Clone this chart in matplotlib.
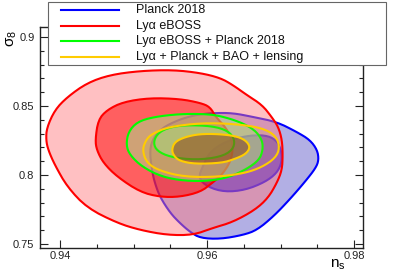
import matplotlib
matplotlib.use("Agg")
import matplotlib.pyplot as plt
from matplotlib.patches import Polygon, Rectangle
from matplotlib.lines import Line2D
from matplotlib.ticker import MultipleLocator

plt.rcParams["font.family"] = ["Liberation Sans", "DejaVu Sans"]
plt.rcParams["mathtext.fontset"] = "custom"
plt.rcParams["mathtext.rm"] = "Liberation Sans"
plt.rcParams["mathtext.it"] = "Liberation Sans"

# contour outlines (n_s, sigma_8)
planck_2s_ns = [0.9522, 0.9527, 0.9539, 0.9561, 0.9584, 0.9608, 0.9635, 0.9663, 0.9695, 0.9722,
                0.9740, 0.9750, 0.9752, 0.9748, 0.9733, 0.9713, 0.9691, 0.9668, 0.9649, 0.9618,
                0.9591, 0.9577, 0.9563, 0.9550, 0.9536, 0.9529, 0.9525]
planck_2s_s8 = [0.8181, 0.8268, 0.8341, 0.8399, 0.8435, 0.8449, 0.8449, 0.8420, 0.8384, 0.8312,
                0.8254, 0.8181, 0.8109, 0.8051, 0.7949, 0.7826, 0.7703, 0.7601, 0.7565, 0.7536,
                0.7543, 0.7587, 0.7652, 0.7725, 0.7841, 0.7942, 0.8036]
planck_1s_ns = [0.9588, 0.9595, 0.9604, 0.9624, 0.9652, 0.9679, 0.9694, 0.9701, 0.9702, 0.9695,
                0.9679, 0.9652, 0.9624, 0.9601]
planck_1s_s8 = [0.7978, 0.8072, 0.8167, 0.8239, 0.8283, 0.8290, 0.8254, 0.8181, 0.8094, 0.8014,
                0.7949, 0.7891, 0.7877, 0.7913]

lya_2s_ns = [0.9381, 0.9382, 0.9393, 0.9410, 0.9437, 0.9468, 0.9509, 0.9554, 0.9591, 0.9618,
             0.9635, 0.9654, 0.9675, 0.9688, 0.9697, 0.9702, 0.9703, 0.9702, 0.9695, 0.9683,
             0.9665, 0.9635, 0.9608, 0.9581, 0.9546, 0.9509, 0.9478, 0.9437, 0.9410, 0.9393,
             0.9384]
lya_2s_s8 = [0.8254, 0.8341, 0.8471, 0.8565, 0.8667, 0.8725, 0.8754, 0.8761, 0.8739, 0.8703,
             0.8652, 0.8580, 0.8507, 0.8420, 0.8348, 0.8254, 0.8145, 0.8036, 0.7942, 0.7833,
             0.7746, 0.7659, 0.7616, 0.7565, 0.7565, 0.7601, 0.7652, 0.7761, 0.7913, 0.8072,
             0.8181]
lya_1s_ns = [0.9448, 0.9452, 0.9464, 0.9486, 0.9522, 0.9563, 0.9591, 0.9604, 0.9612, 0.9626,
             0.9634, 0.9635, 0.9631, 0.9620, 0.9607, 0.9591, 0.9563, 0.9536, 0.9509, 0.9478,
             0.9459, 0.9450]
lya_1s_s8 = [0.8254, 0.8399, 0.8471, 0.8529, 0.8558, 0.8551, 0.8522, 0.8493, 0.8420, 0.8341,
             0.8254, 0.8167, 0.8087, 0.8000, 0.7942, 0.7877, 0.7841, 0.7841, 0.7877, 0.7986,
             0.8087, 0.8181]

lyapl_2s_ns = [0.9490, 0.9493, 0.9505, 0.9527, 0.9563, 0.9597, 0.9618, 0.9645, 0.9665, 0.9675,
               0.9676, 0.9671, 0.9654, 0.9631, 0.9604, 0.9570, 0.9539, 0.9512, 0.9495]
lyapl_2s_s8 = [0.8217, 0.8312, 0.8384, 0.8420, 0.8442, 0.8442, 0.8428, 0.8384, 0.8326, 0.8254,
               0.8181, 0.8109, 0.8043, 0.7986, 0.7957, 0.7957, 0.7986, 0.8058, 0.8145]
lyapl_1s_ns = [0.9527, 0.9532, 0.9546, 0.9570, 0.9607, 0.9629, 0.9638, 0.9635, 0.9618, 0.9584,
               0.9550, 0.9532]
lyapl_1s_s8 = [0.8232, 0.8297, 0.8341, 0.8362, 0.8355, 0.8319, 0.8254, 0.8181, 0.8130, 0.8109,
               0.8130, 0.8174]

all_2s_ns = [0.9512, 0.9517, 0.9525, 0.9547, 0.9593, 0.9638, 0.9675, 0.9694, 0.9699, 0.9693,
             0.9675, 0.9652, 0.9615, 0.9570, 0.9536, 0.9518]
all_2s_s8 = [0.8181, 0.8254, 0.8297, 0.8348, 0.8377, 0.8370, 0.8341, 0.8283, 0.8196, 0.8123,
             0.8058, 0.8014, 0.7986, 0.7986, 0.8029, 0.8087]
all_1s_ns = [0.9552, 0.9556, 0.9570, 0.9590, 0.9615, 0.9638, 0.9652, 0.9659, 0.9653, 0.9638,
             0.9620, 0.9584, 0.9563, 0.9555]
all_1s_s8 = [0.8181, 0.8239, 0.8275, 0.8297, 0.8297, 0.8283, 0.8254, 0.8203, 0.8152, 0.8116,
             0.8087, 0.8080, 0.8101, 0.8138]

labels = ["Planck 2018", "Ly\u03b1 eBOSS", "Ly\u03b1 eBOSS + Planck 2018",
          "Ly\u03b1 + Planck + BAO + lensing"]
line_colors = ["#0000ff", "#ff0000", "#00ff00", "#ffcc00"]


def smooth(xs, ys, n=2):
    # chaikin corner cutting on a closed outline
    pts = list(zip(xs, ys))
    for _ in range(n):
        new = []
        for i in range(len(pts)):
            x0, y0 = pts[i]
            x1, y1 = pts[(i + 1) % len(pts)]
            new.append((0.75 * x0 + 0.25 * x1, 0.75 * y0 + 0.25 * y1))
            new.append((0.25 * x0 + 0.75 * x1, 0.25 * y0 + 0.75 * y1))
        pts = new
    return pts


def add_contour(ax, xs, ys, line, fill, alpha):
    pts = smooth(xs, ys)
    ax.add_patch(Polygon(pts, closed=True, facecolor=fill, alpha=alpha,
                         edgecolor="none", zorder=2))
    ax.add_patch(Polygon(pts, closed=True, facecolor="none", edgecolor=line,
                         linewidth=1.5, zorder=2))


fig = plt.figure(figsize=(4.05, 2.76), dpi=100)
ax = fig.add_axes([40 / 405, 1 - 248 / 276, 323 / 405, 221 / 276])

add_contour(ax, planck_2s_ns, planck_2s_s8, "#0000ff", "#b2afe4", 1.0)
add_contour(ax, planck_1s_ns, planck_1s_s8, "#0000ff", "#0000e6", 0.6)
add_contour(ax, lya_2s_ns, lya_2s_s8, "#ff0000", "#ff7a7f", 0.475)
add_contour(ax, lya_1s_ns, lya_1s_s8, "#ff0000", "#ff0000", 0.5)
add_contour(ax, lyapl_2s_ns, lyapl_2s_s8, "#00ff00", "#a0e68c", 0.5)
add_contour(ax, lyapl_1s_ns, lyapl_1s_s8, "#00ff00", "#a0e68c", 0.5)
add_contour(ax, all_2s_ns, all_2s_s8, "#ffcc00", "#c8be3c", 0.15)
add_contour(ax, all_1s_ns, all_1s_s8, "#ffcc00", "#8c4619", 0.55)

ax.set_xlim(0.93728, 0.98122)
ax.set_ylim(0.7471, 0.9072)
ax.xaxis.set_major_locator(MultipleLocator(0.02))
ax.xaxis.set_minor_locator(MultipleLocator(0.005))
ax.yaxis.set_major_locator(MultipleLocator(0.05))
ax.yaxis.set_minor_locator(MultipleLocator(0.01))
ax.xaxis.set_major_formatter(plt.FuncFormatter(lambda v, p: f"{v:g}"))
ax.yaxis.set_major_formatter(plt.FuncFormatter(lambda v, p: f"{v:g}"))
ax.tick_params(which="both", direction="in", top=True, right=True,
               labelsize=8, colors="#222222", width=0.8)
ax.tick_params(which="major", length=6)
ax.tick_params(which="minor", length=3)
ax.tick_params(axis="x", pad=2)
ax.tick_params(axis="y", pad=4)
for s in ax.spines.values():
    s.set_linewidth(1.0)
    s.set_color("#222222")

fig.text(12 / 405, 1 - 38 / 276, r"$\mathregular{\sigma_8}$", rotation=90,
         fontsize=11, ha="center", va="center")
fig.text(346 / 405, 1 - 265 / 276, r"$\mathregular{n_s}$", fontsize=11,
         ha="right", va="center")

# legend box drawn by hand, ROOT style
fig.patches.append(Rectangle((48 / 405, 1 - 65 / 276), 338 / 405, 63 / 276,
                             transform=fig.transFigure, facecolor="white",
                             edgecolor="#666666", linewidth=0.8, zorder=5))
row_y = [10, 25.5, 41, 57]
for lab, col, yy in zip(labels, line_colors, row_y):
    fy = 1 - yy / 276
    fig.lines.append(Line2D([61 / 405, 119 / 405], [fy, fy], color=col,
                            linewidth=1.5, transform=fig.transFigure, zorder=6))
    fig.text(136 / 405, fy, lab, fontsize=9, ha="left", va="center",
             color="#111111", zorder=6)

fig.savefig("out.png", dpi=100)
